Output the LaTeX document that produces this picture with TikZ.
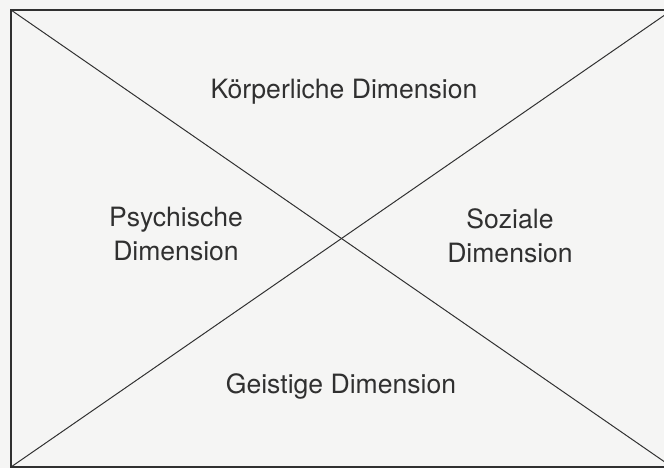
\documentclass[tikz,border=0pt]{standalone}
\usepackage{fontspec}
\setsansfont{TeX Gyre Heros}
\begin{document}
\begin{tikzpicture}[font=\sffamily\fontsize{18.9}{24.5}\selectfont]
  \definecolor{scanpaper}{RGB}{245,245,244}
  \definecolor{inkgray}{RGB}{48,48,48}
  \fill[scanpaper] (0,0) rectangle (16.6,11.7);
  \useasboundingbox (0,0) rectangle (16.6,11.7);
  \begin{scope}
    \clip (0,0) rectangle (16.6,11.7);
    \coordinate (tl) at (0.275,11.45);
    \coordinate (tr) at (16.8,11.45);
    \coordinate (bl) at (0.275,0.025);
    \coordinate (br) at (16.8,0.025);
    \draw[inkgray,line width=1.5pt] (tl) -- (tr) -- (br) -- (bl) -- cycle;
    \draw[inkgray,line width=0.7pt] (tl) -- (br);
    \draw[inkgray,line width=0.7pt] (bl) -- (tr);
  \end{scope}
  \node[text=inkgray,anchor=base] (koerper) at (8.6,9.225) {Körperliche Dimension};
  \node[text=inkgray,align=center] (psyche) at (4.4,5.85) {Psychische\\Dimension};
  \node[text=inkgray,align=center] (sozial) at (12.75,5.8) {Soziale\\Dimension};
  \node[text=inkgray,anchor=base] (geist) at (8.525,1.85) {Geistige Dimension};
\end{tikzpicture}
\end{document}
